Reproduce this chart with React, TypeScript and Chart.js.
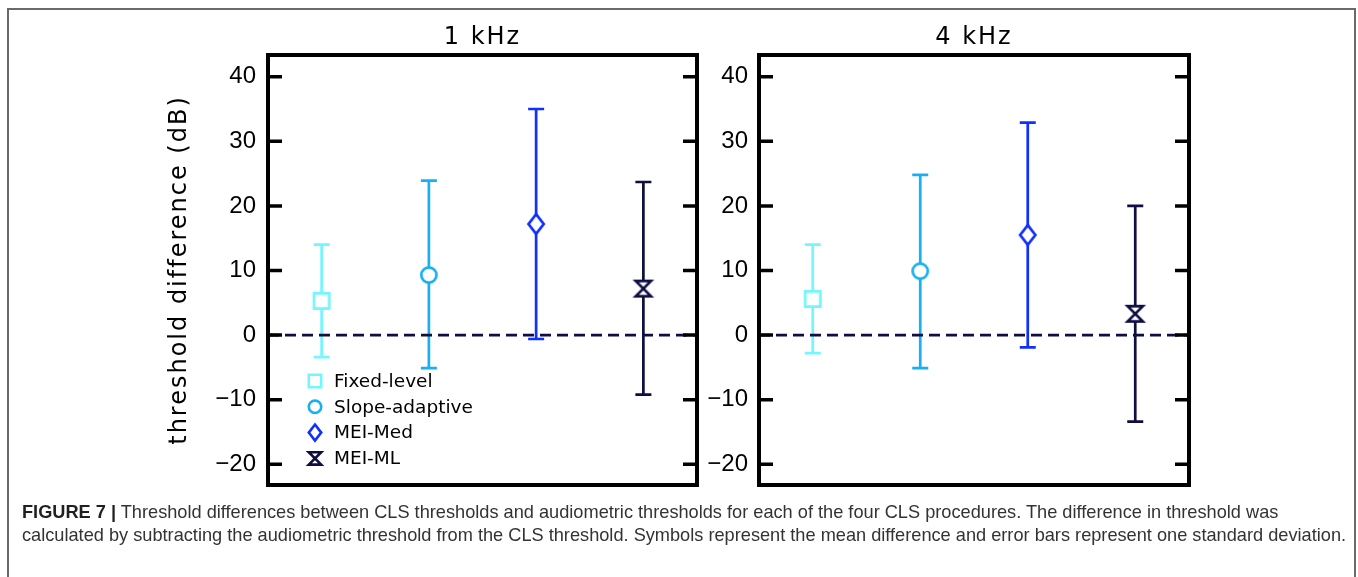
import React, { useEffect, useRef } from "react";
import { Chart, registerables } from "chart.js";

Chart.register(...registerables);

const procedures = ["Fixed-level", "Slope-adaptive", "MEI-Med", "MEI-ML"];
const panelTitles = ["1 kHz", "4 kHz"];
const mean1kHz = [5.3, 9.3, 17.2, 7.2];
const upper1kHz = [14.0, 23.9, 35.0, 23.7];
const lower1kHz = [-3.4, -5.1, -0.6, -9.2];
const mean4kHz = [5.6, 9.9, 15.5, 3.3];
const upper4kHz = [14.0, 24.8, 32.9, 20.0];
const lower4kHz = [-2.8, -5.1, -1.9, -13.4];
const yTickValues = [-20, -10, 0, 10, 20, 30, 40];
const yRange = [-23.2, 43.36];
const xRange = [-0.5, 3.5];
const referenceValue = 0;
const yAxisTitle = "threshold difference (dB)";
const seriesColors = ["#74f6ff", "#18b0f2", "#1030ff", "#0e0e42"];
const markerShapes = ["square", "circle", "diamond", "hourglass"];
const captionLead = "FIGURE 7 |";
const captionLine1 =
  " Threshold differences between CLS thresholds and audiometric thresholds for each of the four CLS procedures. The difference in threshold was";
const captionLine2 =
  "calculated by subtracting the audiometric threshold from the CLS threshold. Symbols represent the mean difference and error bars represent one standard deviation.";

type PanelCfg = {
  title: string;
  means: number[];
  upper: number[];
  lower: number[];
  legend: boolean;
  yTitle: boolean;
  canvasLeft: number;
  canvasWidth: number;
  axisWidth: number;
  padRight: number;
  labelPad: number;
};

const panels: PanelCfg[] = [
  {
    title: panelTitles[0],
    means: mean1kHz,
    upper: upper1kHz,
    lower: lower1kHz,
    legend: true,
    yTitle: true,
    canvasLeft: 0,
    canvasWidth: 702,
    axisWidth: 268,
    padRight: 5,
    labelPad: 12,
  },
  {
    title: panelTitles[1],
    means: mean4kHz,
    upper: upper4kHz,
    lower: lower4kHz,
    legend: false,
    yTitle: false,
    canvasLeft: 702,
    canvasWidth: 656,
    axisWidth: 57,
    padRight: 169,
    labelPad: 11,
  },
];

function drawShape(
  ctx: CanvasRenderingContext2D,
  shape: string,
  x: number,
  y: number,
  half: number,
  lw: number,
  color: string
) {
  ctx.save();
  ctx.beginPath();
  if (shape === "square") {
    ctx.rect(x - half, y - half, half * 2, half * 2);
  } else if (shape === "circle") {
    ctx.arc(x, y, half, 0, Math.PI * 2);
  } else if (shape === "diamond") {
    const h = half * 1.3;
    ctx.moveTo(x, y - h);
    ctx.lineTo(x + half, y);
    ctx.lineTo(x, y + h);
    ctx.lineTo(x - half, y);
    ctx.closePath();
  } else {
    ctx.moveTo(x - half, y - half);
    ctx.lineTo(x + half, y - half);
    ctx.lineTo(x - half, y + half);
    ctx.lineTo(x + half, y + half);
    ctx.closePath();
  }
  ctx.fillStyle = "#ffffff";
  ctx.fill();
  ctx.lineWidth = lw;
  ctx.lineJoin = "miter";
  ctx.strokeStyle = color;
  ctx.stroke();
  ctx.restore();
}

function makeMarker(shape: string, color: string, half: number, lw: number) {
  const c = document.createElement("canvas");
  const size = Math.ceil(half * 2.6 + lw * 2 + 6);
  c.width = size;
  c.height = size;
  const ctx = c.getContext("2d")!;
  drawShape(ctx, shape, size / 2, size / 2, half, lw, color);
  return c;
}

function PanelChart({ cfg }: { cfg: PanelCfg }) {
  const ref = useRef<HTMLCanvasElement | null>(null);
  useEffect(() => {
    if (!ref.current) return;
    const markers = markerShapes.map((s, i) => makeMarker(s, seriesColors[i], 7.6, 2.7));
    const decor = {
      id: "panelDecor",
      beforeDatasetsDraw(chart: any) {
        const { ctx, chartArea: a } = chart;
        const y = chart.scales.y;
        cfg.upper.forEach((hi: number, i: number) => {
          const pt = chart.getDatasetMeta(i).data[0];
          const yHi = y.getPixelForValue(hi);
          const yLo = y.getPixelForValue(cfg.lower[i]);
          ctx.save();
          ctx.strokeStyle = seriesColors[i];
          ctx.lineWidth = 2.7;
          ctx.beginPath();
          ctx.moveTo(pt.x, yHi);
          ctx.lineTo(pt.x, yLo);
          ctx.moveTo(pt.x - 8, yHi);
          ctx.lineTo(pt.x + 8, yHi);
          ctx.moveTo(pt.x - 8, yLo);
          ctx.lineTo(pt.x + 8, yLo);
          ctx.stroke();
          ctx.restore();
        });
        const y0 = y.getPixelForValue(referenceValue);
        ctx.save();
        ctx.strokeStyle = "#0e0e42";
        ctx.lineWidth = 2.6;
        ctx.setLineDash([11, 6]);
        ctx.beginPath();
        ctx.moveTo(a.left, y0);
        ctx.lineTo(a.right, y0);
        ctx.stroke();
        ctx.restore();
      },
      afterDatasetsDraw(chart: any) {
        const { ctx, chartArea: a } = chart;
        const y = chart.scales.y;
        ctx.save();
        ctx.strokeStyle = "#000";
        ctx.lineWidth = 4;
        ctx.strokeRect(a.left, a.top, a.right - a.left, a.bottom - a.top);
        ctx.lineWidth = 3.5;
        ctx.beginPath();
        yTickValues.forEach((v) => {
          const py = y.getPixelForValue(v);
          ctx.moveTo(a.left, py);
          ctx.lineTo(a.left + 14, py);
          ctx.moveTo(a.right - 14, py);
          ctx.lineTo(a.right, py);
        });
        ctx.stroke();

        ctx.fillStyle = "#000";
        ctx.font = '24px "DejaVu Sans"';
        (ctx as any).letterSpacing = "2px";
        ctx.textAlign = "center";
        ctx.textBaseline = "middle";
        ctx.fillText(cfg.title, (a.left + a.right) / 2, 38);

        if (cfg.yTitle) {
          ctx.save();
          ctx.translate(180, (a.top + a.bottom) / 2);
          ctx.rotate(-Math.PI / 2);
          ctx.fillText(yAxisTitle, 0, 0);
          ctx.restore();
        }
        (ctx as any).letterSpacing = "0px";

        if (cfg.legend) {
          ctx.font = '18.5px "DejaVu Sans"';
          ctx.textAlign = "left";
          ctx.textBaseline = "middle";
          procedures.forEach((name, i) => {
            const ry = a.top + 326 + i * 25.8;
            drawShape(ctx, markerShapes[i], a.left + 47, ry, 6.2, 2.6, seriesColors[i]);
            ctx.fillStyle = "#000";
            ctx.fillText(name, a.left + 66, ry + 1);
          });
        }
        ctx.restore();
      },
    };

    const chart = new Chart(ref.current, {
      type: "scatter",
      data: {
        datasets: procedures.map((p, i) => ({
          label: p,
          data: [{ x: i, y: cfg.means[i] }],
          pointStyle: markers[i] as any,
          pointRadius: 8,
          pointHoverRadius: 8,
          borderColor: seriesColors[i],
          backgroundColor: "#fff",
        })),
      },
      options: {
        animation: false,
        responsive: false,
        devicePixelRatio: 1,
        events: [],
        layout: {
          autoPadding: false,
          padding: { top: 55, right: cfg.padRight, bottom: 92, left: 0 },
        },
        plugins: {
          legend: { display: false },
          title: { display: false },
          tooltip: { enabled: false },
        },
        scales: {
          x: {
            type: "linear",
            min: xRange[0],
            max: xRange[1],
            display: false,
          },
          y: {
            type: "linear",
            min: yRange[0],
            max: yRange[1],
            afterBuildTicks: (axis: any) => {
              axis.ticks = yTickValues.map((v) => ({ value: v }));
            },
            afterFit: (axis: any) => {
              axis.width = cfg.axisWidth;
            },
            grid: { display: false, drawTicks: false },
            border: { display: false },
            ticks: {
              padding: cfg.labelPad,
              color: "#000",
              font: { family: '"Liberation Sans"', size: 24 },
              callback: (v: any) => String(v).replace("-", "\u2212"),
            },
          },
        },
      },
      plugins: [decor],
    });
    return () => chart.destroy();
  }, [cfg]);
  return (
    <canvas
      ref={ref}
      width={cfg.canvasWidth}
      height={577}
      style={{ position: "absolute", left: cfg.canvasLeft, top: 0, width: cfg.canvasWidth, height: 577 }}
    />
  );
}

export default function App() {
  return (
    <div
      style={{
        position: "absolute",
        left: 0,
        top: 0,
        width: 1358,
        height: 577,
        background: "#fff",
        overflow: "hidden",
      }}
    >
      <div
        style={{
          position: "absolute",
          left: 7,
          top: 8,
          width: 1349,
          height: 600,
          border: "2px solid #6a6a6a",
          boxSizing: "border-box",
        }}
      />
      {panels.map((p, i) => (
        <PanelChart key={i} cfg={p} />
      ))}
      <div
        style={{
          position: "absolute",
          left: 22,
          top: 501,
          whiteSpace: "nowrap",
          fontFamily: '"Liberation Sans", Arial, sans-serif',
          fontSize: 18.2,
          lineHeight: "23px",
          color: "#333",
        }}
      >
        <div>
          <b style={{ color: "#231f20" }}>{captionLead}</b>
          {captionLine1}
        </div>
        <div>{captionLine2}</div>
      </div>
    </div>
  );
}
